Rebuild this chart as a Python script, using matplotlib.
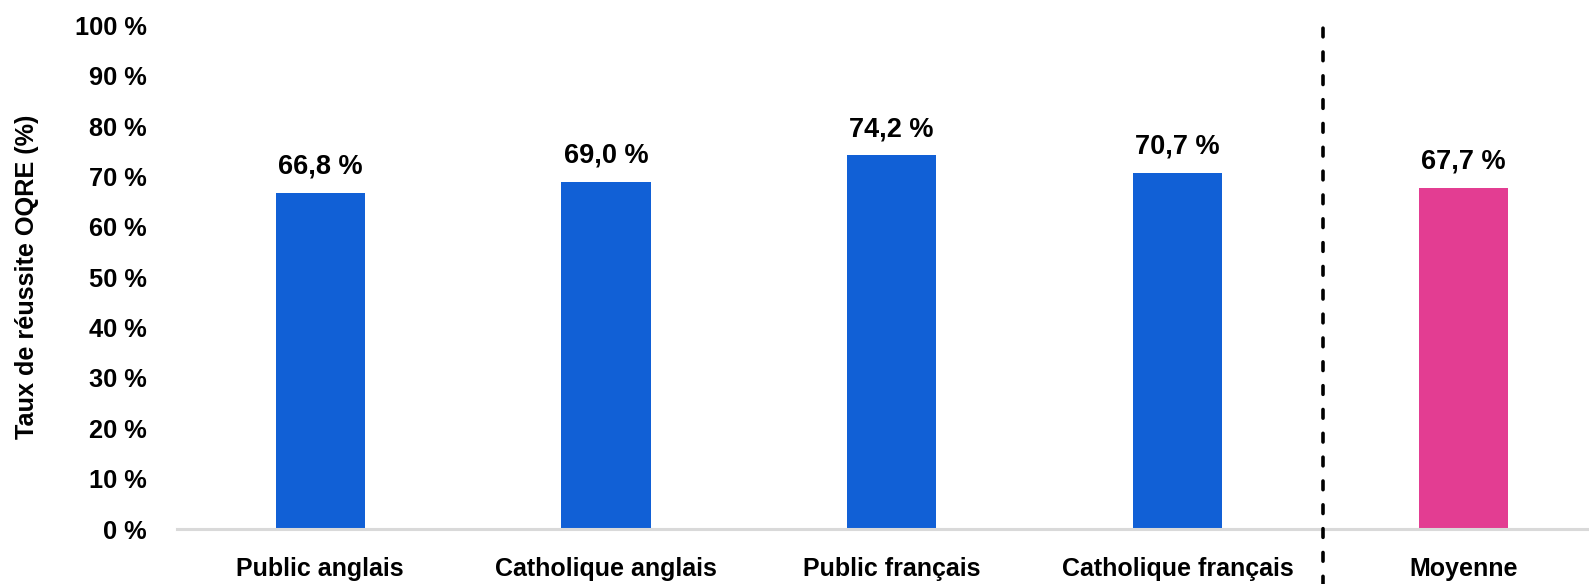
import matplotlib
matplotlib.use("Agg")
from matplotlib import pyplot as plt

categories = ['Public anglais', 'Catholique anglais', 'Public français', 'Catholique français', 'Moyenne']
values = [66.8, 69.0, 74.2, 70.7, 67.7]
colors = ['#1160D6', '#1160D6', '#1160D6', '#1160D6', '#E33D92']
yticks = list(range(0, 101, 10))

plt.rcParams['font.family'] = ['Liberation Sans', 'DejaVu Sans']
plt.rcParams['font.weight'] = 'bold'

fig = plt.figure(figsize=(15.89, 5.84), dpi=100)
ax = fig.add_axes([0.1116, 0.094, 0.8884, 0.8626])

x = list(range(len(categories)))
ax.bar(x, values, width=0.312, color=colors, zorder=2)

for xi, v in zip(x, values):
    ax.annotate(f"{v:.1f} %".replace('.', ','), (xi, v), xytext=(0, 9.5),
                textcoords='offset points', ha='center', va='bottom',
                fontsize=19.5, fontweight='bold')

ax.set_xlim(-0.5, 4.44)
ax.set_ylim(0, 100)
ax.set_yticks(yticks)
ax.set_yticklabels([f"{t} %" for t in yticks], fontsize=18.3, fontweight='bold')
ax.set_xticks(x)
ax.set_xticklabels(categories, fontsize=18, fontweight='bold')
ax.tick_params(axis='both', length=0)
ax.tick_params(axis='x', pad=20)
ax.tick_params(axis='y', pad=22)

for s in ['top', 'right', 'left']:
    ax.spines[s].set_visible(False)
ax.spines['bottom'].set_color('#D9D9D9')
ax.spines['bottom'].set_linewidth(2.2)

ax.set_ylabel('Taux de réussite OQRE (%)', fontsize=18.2, fontweight='bold', labelpad=26)

# separator between schools and average
ax.axvline(3.51, ymin=-0.12, ymax=1.01, color='black', linewidth=2.6,
           linestyle=(0, (2.4, 4.2)), dash_capstyle='round', clip_on=False, zorder=3)

fig.savefig('out.png', dpi=100)
